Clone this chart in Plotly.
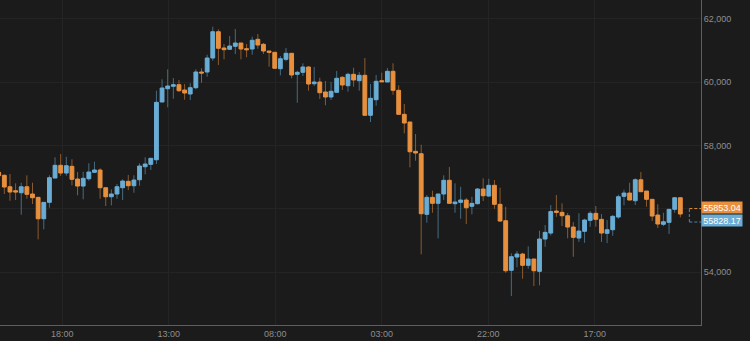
import plotly.graph_objects as go

# ---- data ----
open_ = [57155, 57061, 56700, 56574, 56511, 56700, 56470, 56365, 55689, 56207,
         56975, 57377, 57133, 57345, 56944, 56722, 56953, 57155, 57228, 56669,
         56384, 56470, 56669, 56871, 56732, 56921, 57332, 57408, 57553, 59377,
         59797, 59873, 59924, 59756, 59630, 59829, 60325, 60325, 60767, 61598,
         61083, 61042, 61137, 61241, 61061, 61052, 61358, 61200, 60988, 60947,
         60429, 60726, 60916, 60252, 60315, 60483, 59955, 60009, 59693, 59535,
         59683, 60157, 59892, 60252, 60050, 60221, 58957, 59450, 60050, 60009,
         60347, 59747, 58988, 58745, 57819, 57743, 55828, 56365, 56176, 56470,
         56903, 56164, 56207, 56280, 56081, 56164, 56628, 56406, 56745, 56144,
         55626, 54059, 54479, 54574, 54217, 54416, 54027, 55048, 55237, 55932,
         55891, 55784, 55427, 55079, 55291, 55639, 55860, 55670, 55228, 55342,
         55743, 56397, 56501, 56258, 56921, 56564, 56302, 55806, 55513, 55575,
         55986, 56353]
high = [57228, 57092, 57102, 56808, 56827, 57061, 56827, 56365, 56207, 57061,
        57630, 57734, 57648, 57566, 57165, 57174, 57440, 57490, 57282, 56669,
        56618, 56786, 56934, 57070, 57061, 57440, 57630, 57598, 59734, 60094,
        60410, 60135, 60072, 59946, 59968, 60410, 60442, 60872, 61756, 61674,
        61210, 61462, 61684, 61241, 61210, 61440, 61526, 61241, 60988, 60947,
        60830, 61083, 60916, 60366, 60600, 60514, 60483, 60145, 60040, 60009,
        60356, 60198, 60303, 60461, 60325, 60767, 59946, 60230, 60303, 60451,
        60600, 59905, 59314, 58745, 58366, 58028, 56438, 56574, 56470, 57061,
        57323, 56808, 56700, 56343, 56384, 56659, 56966, 56953, 56912, 56669,
        56068, 54596, 54668, 54615, 54817, 54425, 55310, 55490, 56122, 56438,
        56176, 55869, 55585, 55860, 55689, 55932, 56090, 55838, 55648, 55806,
        56448, 56606, 56827, 56966, 57165, 56564, 56302, 56144, 55879, 55986,
        56353, 56353]
low = [56975, 56470, 56258, 56280, 55816, 56321, 56154, 55038, 55354, 56037,
       56975, 57038, 57048, 56745, 56429, 56302, 56890, 57143, 56321, 56090,
       56112, 56321, 56280, 56596, 56511, 56732, 57092, 57228, 57418, 59377,
       59209, 59481, 59693, 59450, 59440, 59778, 59987, 60176, 60682, 60546,
       60726, 61020, 60894, 60726, 60789, 60872, 61061, 60894, 60492, 60429,
       60221, 60663, 60126, 59355, 60198, 59734, 59882, 59472, 59273, 59440,
       59683, 59756, 59703, 59860, 59734, 58957, 58745, 59260, 60009, 60009,
       59607, 58988, 58388, 57313, 57522, 54564, 55563, 55879, 55070, 56280,
       56176, 55879, 55689, 55522, 55828, 56144, 56248, 56384, 56005, 55594,
       53983, 53246, 54153, 53793, 54109, 53562, 53585, 54804, 55165, 55752,
       55458, 55070, 54488, 54953, 54928, 55436, 55436, 54953, 54920, 55152,
       55689, 56112, 56271, 56122, 56543, 56069, 55616, 55395, 55458, 55206,
       55879, 55733]
close = [57048, 56691, 56533, 56533, 56700, 56460, 56353, 55689, 56207, 56985,
         57377, 57133, 57364, 56934, 56722, 56966, 57165, 57228, 56669, 56384,
         56470, 56700, 56880, 56732, 56912, 57354, 57418, 57598, 59367, 59819,
         59882, 59924, 59734, 59661, 59829, 60325, 60293, 60767, 61598, 61074,
         61030, 61146, 61241, 61052, 61030, 61327, 61178, 60988, 60947, 60442,
         60745, 60916, 60230, 60315, 60483, 59946, 60009, 59671, 59535, 59715,
         60126, 59914, 60252, 60072, 60221, 58957, 59494, 60031, 60018, 60347,
         59747, 58988, 58713, 57806, 57765, 55847, 56365, 56176, 56470, 56903,
         56176, 56217, 56280, 56036, 56176, 56628, 56416, 56745, 56144, 55616,
         54046, 54490, 54574, 54217, 54416, 54046, 55048, 55259, 55915, 55891,
         55784, 55427, 55101, 55300, 55648, 55860, 55670, 55237, 55342, 55765,
         56384, 56501, 56280, 56921, 56543, 56302, 55774, 55522, 55594, 55986,
         56353, 55838]

x_tick_labels = ["18:00", "13:00", "08:00", "03:00", "22:00", "17:00"]
y_tick_values = [54000, 56000, 58000, 60000, 62000]
y_tick_labels = ["54,000", "", "58,000", "60,000", "62,000"]
last_open = 55853.04
last_close = 55828.17

# ---- styling / layout constants ----
UP = "#6aadd5"
DOWN = "#e8903e"
UP_WICK = "rgba(106,173,213,0.55)"
DOWN_WICK = "rgba(232,144,62,0.55)"
BG = "#1b1b1b"
GRID = "#242424"
AXIS = "#5e5e5e"
TXT = "#8e8e8e"
FONT = "Liberation Sans, Arial, sans-serif"

x_tick_pos = [11.3, 30.2, 49.1, 68.0, 86.9, 105.8]
x_range = [0.23, 124.67]
y_range = [52332, 62600]

x = list(range(len(open_)))

fig = go.Figure()

# wicks (drawn first, darker)
for is_up, wcol in ((True, UP_WICK), (False, DOWN_WICK)):
    xs, ys = [], []
    for i in x:
        if (close[i] >= open_[i]) == is_up:
            xs += [i, i, None]
            ys += [low[i], high[i], None]
    fig.add_trace(go.Scatter(x=xs, y=ys, mode="lines",
                             line=dict(color=wcol, width=1),
                             hoverinfo="skip", showlegend=False))

# bodies
body_hi = [max(o, c) for o, c in zip(open_, close)]
body_lo = [min(o, c) for o, c in zip(open_, close)]
fig.add_trace(go.Candlestick(
    x=x, open=open_, high=body_hi, low=body_lo, close=close,
    increasing=dict(line=dict(color=UP, width=1), fillcolor=UP),
    decreasing=dict(line=dict(color=DOWN, width=1), fillcolor=DOWN),
    whiskerwidth=0, showlegend=False, hoverinfo="skip"))

# pending candle dashed outline
box_x0, box_x1 = 122.6, x_range[1]
box_top, box_bot = 56010, 55585
fig.add_shape(type="line", x0=box_x0, x1=box_x1, y0=box_top, y1=box_top,
              xref="x", yref="y", line=dict(color=DOWN, width=1, dash="3px,2px"))
fig.add_shape(type="line", x0=box_x0, x1=box_x1, y0=box_bot, y1=box_bot,
              xref="x", yref="y", line=dict(color="#4f86a8", width=1, dash="3px,2px"))
fig.add_shape(type="line", x0=box_x0, x1=box_x0, y0=box_bot, y1=box_top,
              xref="x", yref="y", line=dict(color="#4f86a8", width=1, dash="3px,2px"))

# price tags
fig.add_annotation(x=1, xref="paper", xanchor="left", y=last_open, yref="y",
                   yanchor="bottom", text=f"{last_open:.2f}", showarrow=False,
                   bgcolor=DOWN, font=dict(color="white", size=9, family=FONT),
                   borderpad=1, width=38, height=9)
fig.add_annotation(x=1, xref="paper", xanchor="left", y=last_close, yref="y",
                   yanchor="top", text=f"{last_close:.2f}", showarrow=False,
                   bgcolor=UP, font=dict(color="white", size=9, family=FONT),
                   borderpad=1, width=38, height=9)

fig.update_layout(
    width=750, height=341,
    margin=dict(l=0, r=49, t=0, b=16),
    paper_bgcolor=BG, plot_bgcolor=BG,
    font=dict(family=FONT, color=TXT, size=9),
    showlegend=False,
    boxgap=0.32, boxgroupgap=0,
    xaxis=dict(range=x_range, tickvals=x_tick_pos, ticktext=x_tick_labels,
               showgrid=True, gridcolor=GRID, gridwidth=1, zeroline=False,
               showline=True, linecolor=AXIS, linewidth=1, ticks="",
               tickfont=dict(size=9, color=TXT), rangeslider=dict(visible=False),
               fixedrange=True),
    yaxis=dict(range=y_range, side="right", tickvals=y_tick_values,
               ticktext=y_tick_labels, showgrid=True, gridcolor=GRID, gridwidth=1,
               zeroline=False, showline=True, linecolor=AXIS, linewidth=1,
               ticks="", tickfont=dict(size=9, color=TXT), fixedrange=True),
)

fig.write_html("out.html")
